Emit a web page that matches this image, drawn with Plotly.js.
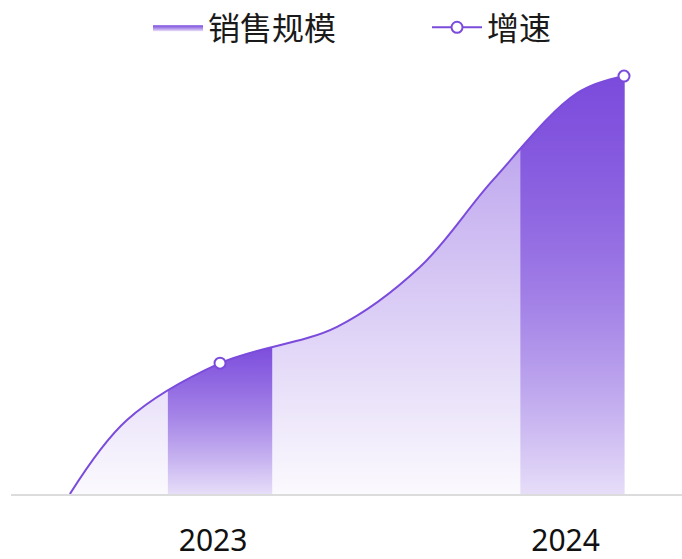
<!DOCTYPE html>
<html>
<head>
<meta charset="utf-8">
<script src="https://cdn.plot.ly/plotly-3.0.1.min.js"></script>
<style>
html,body{margin:0;padding:0;background:#ffffff;}
#chart{width:682px;height:559px;}
</style>
</head>
<body>
<div id="chart"></div>
<script>
// ---------------- data ----------------
const years = [2023, 2024];
const tickLabels = ['2023', '2024'];
const seriesNames = ['销售规模', '增速'];
// 销售规模: relative bar heights (no scale shown in the picture)
const salesValues = [36, 101];
// 增速 curve: anchor points (x in year units, relative height)
const growthX = [2022.574, 2022.736, 2023, 2023.332, 2023.567, 2023.774, 2024.013, 2024.146];
const growthY = [0, 17.7, 31.3, 40.0, 54.3, 75.1, 95.9, 100];
// which anchor points are the marked data points (2023, 2024)
const growthMarked = [false, false, true, false, false, false, false, true];

// ---------------- style ----------------
const purple = 'rgb(123,75,220)';
const barHalf = 0.148;
const yTop = 118.2;
const font = '"Noto Sans CJK SC", "Noto Sans", sans-serif';

const traces = [];

// light area under the growth curve
traces.push({
  type: 'scatter', mode: 'lines', x: growthX, y: growthY,
  line: {shape: 'spline', width: 0, color: 'rgba(0,0,0,0)'},
  fill: 'tozeroy',
  fillgradient: {type: 'vertical', start: 0, stop: 100,
    colorscale: [[0, 'rgba(123,75,220,0.03)'], [1, 'rgba(123,75,220,0.58)']]},
  showlegend: false, hoverinfo: 'skip'
});

// bars (gradient filled rectangles built from the data)
years.forEach((yr, i) => {
  const v = salesValues[i];
  traces.push({
    type: 'scatter', mode: 'lines',
    x: [yr - barHalf, yr - barHalf, yr + barHalf, yr + barHalf, yr - barHalf],
    y: [0, v, v, 0, 0],
    fill: 'toself',
    line: {width: 0, color: 'rgba(0,0,0,0)'},
    fillgradient: {type: 'vertical', start: 0, stop: v,
      colorscale: [[0, 'rgba(123,75,220,0.16)'], [0.5, 'rgba(123,75,220,0.62)'], [1, 'rgba(123,75,220,1)']]},
    name: seriesNames[0], legendgroup: 'sales', legend: 'legend',
    showlegend: i === 0, hoverinfo: 'skip'
  });
});

// top edge helper so that everything above the curve is cleared
traces.push({
  type: 'scatter', mode: 'lines',
  x: [growthX[0], growthX[growthX.length - 1]], y: [yTop, yTop],
  line: {width: 0, color: 'rgba(0,0,0,0)'},
  showlegend: false, hoverinfo: 'skip'
});

// growth curve
traces.push({
  type: 'scatter', mode: 'lines', x: growthX, y: growthY,
  line: {shape: 'spline', smoothing: 1, width: 2, color: purple},
  fill: 'tonexty', fillcolor: '#ffffff',
  showlegend: false, hoverinfo: 'skip'
});

// markers on the data points
traces.push({
  type: 'scatter', mode: 'markers',
  x: growthX.filter((_, i) => growthMarked[i]),
  y: growthY.filter((_, i) => growthMarked[i]),
  marker: {size: 11, color: '#ffffff', line: {width: 2, color: purple}},
  showlegend: false, cliponaxis: false, hoverinfo: 'skip'
});

// legend entry for 增速
traces.push({
  type: 'scatter', mode: 'lines+markers', x: [null], y: [null],
  name: seriesNames[1], legend: 'legend2',
  line: {width: 2, color: purple},
  marker: {size: 11, color: '#ffffff', line: {width: 2, color: purple}}
});

const legendBase = {
  orientation: 'h', xanchor: 'left', y: 1, yanchor: 'top',
  bgcolor: 'rgba(0,0,0,0)',
  font: {size: 32, family: font, color: '#1a1a1a'},
  itemwidth: 50
};

const layout = {
  width: 682, height: 559,
  margin: {l: 11, r: 0, t: 0, b: 65},
  paper_bgcolor: '#ffffff', plot_bgcolor: '#ffffff',
  font: {family: font, color: '#1a1a1a'},
  showlegend: true,
  legend: Object.assign({}, legendBase, {x: 0.2042}),
  legend2: Object.assign({}, legendBase, {x: 0.620}),
  xaxis: {
    range: [2022.407, 2024.3105],
    tickvals: years, ticktext: tickLabels,
    ticks: '', showgrid: false, zeroline: false,
    showline: true, linecolor: '#dcdcdc', linewidth: 2,
    tickfont: {size: 30, family: '"Noto Sans", sans-serif', color: '#111111'},
    ticklabelstandoff: 19, ticklabelshift: -7, fixedrange: true
  },
  yaxis: {
    range: [0, yTop], visible: false, showgrid: false, zeroline: false, fixedrange: true
  }
};

Plotly.newPlot('chart', traces, layout, {displayModeBar: false, staticPlot: true});
</script>
</body>
</html>
